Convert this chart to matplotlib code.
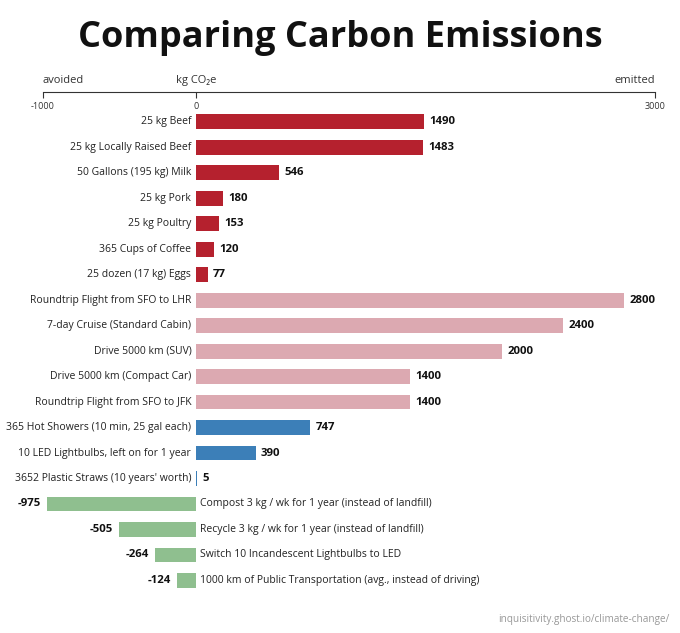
import matplotlib
matplotlib.use("Agg")
import matplotlib.pyplot as plt

plt.rcParams['font.family'] = ['Open Sans', 'DejaVu Sans']

labels = ["25 kg Beef", "25 kg Locally Raised Beef", "50 Gallons (195 kg) Milk", "25 kg Pork",
          "25 kg Poultry", "365 Cups of Coffee", "25 dozen (17 kg) Eggs",
          "Roundtrip Flight from SFO to LHR", "7-day Cruise (Standard Cabin)", "Drive 5000 km (SUV)",
          "Drive 5000 km (Compact Car)", "Roundtrip Flight from SFO to JFK",
          "365 Hot Showers (10 min, 25 gal each)", "10 LED Lightbulbs, left on for 1 year",
          "3652 Plastic Straws (10 years' worth)",
          "Compost 3 kg / wk for 1 year (instead of landfill)",
          "Recycle 3 kg / wk for 1 year (instead of landfill)",
          "Switch 10 Incandescent Lightbulbs to LED",
          "1000 km of Public Transportation (avg., instead of driving)"]
values = [1490, 1483, 546, 180, 153, 120, 77, 2800, 2400, 2000, 1400, 1400, 747, 390, 5,
          -975, -505, -264, -124]
groups = ["food"]*7 + ["travel"]*5 + ["home"]*3 + ["avoid"]*4
colors = {"food": "#b5212e", "travel": "#dca9b1", "home": "#3c7fb8", "avoid": "#8fbf8f"}

fig = plt.figure(figsize=(6.8, 6.33), dpi=100)
ax = fig.add_axes([0.063, 0.063, 0.9, 0.792])
n = len(values)
ys = list(range(n))
ax.barh(ys, values, height=0.58, color=[colors[g] for g in groups])
ax.set_xlim(-1000, 3000)
ax.set_ylim(n - 0.5, -1.18)
for y, v, l in zip(ys, values, labels):
    if v >= 0:
        ax.text(-30, y, l, ha='right', va='center', fontsize=7.5, color='#222')
        ax.text(v + 35, y, str(v), ha='left', va='center', fontsize=8.2, fontweight='bold', color='#111')
    else:
        ax.text(30, y, l, ha='left', va='center', fontsize=7.5, color='#222')
        ax.text(v - 40, y, str(v), ha='right', va='center', fontsize=8.2, fontweight='bold', color='#111')

for s in ['left', 'right', 'bottom']:
    ax.spines[s].set_visible(False)
ax.spines['top'].set_color('#333')
ax.set_yticks([])
ax.xaxis.tick_top()
ax.set_xticks([-1000, 0, 3000])
ax.set_xticklabels(['-1000', '0', '3000'])
ax.tick_params(axis='x', direction='in', length=4, pad=-14, labelsize=6.5, colors='#333')
tr = ax.get_xaxis_transform()
ax.text(-1000, 1.012, "avoided", transform=tr, ha='left', va='bottom', fontsize=8, color='#333')
ax.text(0, 1.012, "kg CO₂e", transform=tr, ha='center', va='bottom', fontsize=8, color='#333')
ax.text(3000, 1.012, "emitted", transform=tr, ha='right', va='bottom', fontsize=8, color='#333')

fig.text(0.5, 0.94, "Comparing Carbon Emissions", ha='center', va='center', fontsize=26, fontweight='bold', color='#111')
fig.text(0.985, 0.022, "inquisitivity.ghost.io/climate-change/", ha='right', va='center', fontsize=7.2, color='#999')
fig.savefig("out.png", dpi=100, facecolor='white')
